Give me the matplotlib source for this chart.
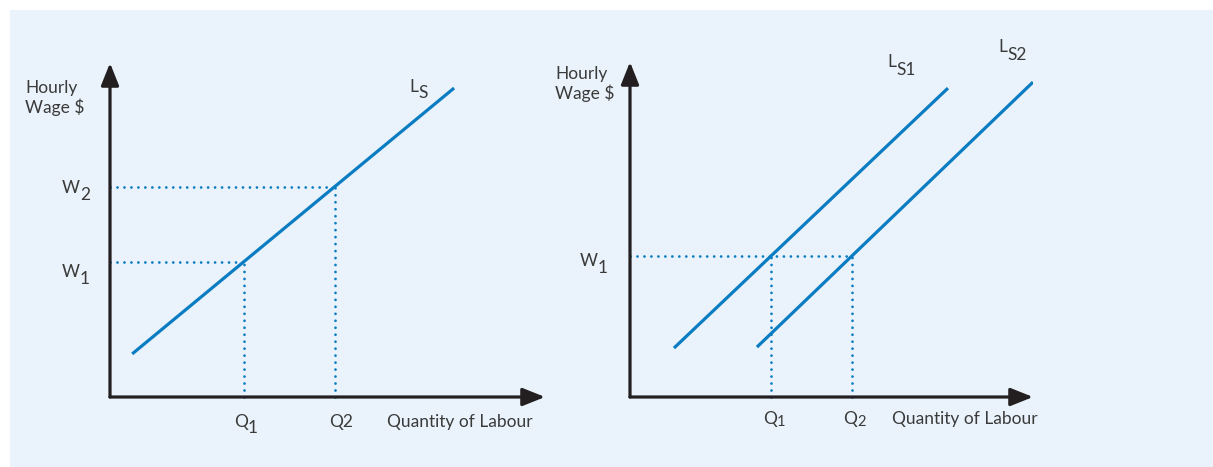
import matplotlib
matplotlib.use("Agg")
import matplotlib.pyplot as plt
from matplotlib.patches import Rectangle

# ---------------- data ----------------
# Left panel: single labour supply curve
left_ls_q = [0.51, 7.91]
left_ls_w = [1.29, 9.25]
left_q_marks = [3.08, 5.17]
left_w_marks = [4.05, 6.30]

# Right panel: shifted supply curves
right_ls1_q = [1.09, 7.89]
right_ls1_w = [1.46, 9.22]
right_ls2_q = [3.15, 10.0]
right_ls2_w = [1.49, 9.40]
right_q_marks = [3.50, 5.51]
right_w_mark = 4.20

x_label = "Quantity of Labour"
y_label = "Hourly\nWage $"

# ---------------- style ----------------
W, H = 1213, 467
BLUE = "#0a7cc2"
BG = "#eaf3fb"
AXC = "#231f20"
TXT = "#3a3a3a"
FONT = ["Lato", "DejaVu Sans"]
FS = 12.5
FW = "normal"

plt.rcParams["font.family"] = FONT

fig = plt.figure(figsize=(W / 100, H / 100), dpi=100)
fig.patch.set_facecolor("white")
fig.patches.append(Rectangle((10 / W, 0), 1 - 10 / W, 1 - 10 / H,
                             transform=fig.transFigure, facecolor=BG,
                             edgecolor="none", zorder=-10))


def fx(x):
    return x / W


def fy(y):
    return 1 - y / H


def make_axes(x0, x1, y0, y1):
    ax = fig.add_axes([fx(x0), fy(y0), fx(x1) - fx(x0), fy(y1) - fy(y0)])
    ax.set_xlim(0, 10)
    ax.set_ylim(0, 10)
    ax.axis("off")
    ax.patch.set_alpha(0)
    for xy in [(10, 0), (0, 10)]:
        ax.annotate("", xy=xy, xytext=(0, 0), xycoords="data",
                    arrowprops=dict(arrowstyle="-|>,head_length=0.85,head_width=0.34",
                                    mutation_scale=16, lw=2.3, color=AXC,
                                    shrinkA=0, shrinkB=0),
                    annotation_clip=False, zorder=5)
    return ax


def dotted(ax, q, w, horiz=True):
    kw = dict(color=BLUE, lw=2.0, ls=(0, (0.01, 2.5)),
              dash_capstyle="round", clip_on=False)
    if horiz:
        ax.plot([0, q], [w, w], **kw)
    ax.plot([q, q], [0, w], **kw)


def sublabel(xj, yb, main, sub, dy=7, subsize=None):
    """main text right-aligned at pixel xj (baseline yb), subscript after."""
    fig.text(fx(xj), fy(yb), main, ha="right", va="baseline", fontsize=FS,
             color=TXT, fontweight=FW)
    fig.text(fx(xj), fy(yb + dy), sub, ha="left", va="baseline",
             fontsize=subsize or FS, color=TXT, fontweight=FW)


def label(x, y, s, ha="left", va="baseline", **kw):
    fig.text(fx(x), fy(y), s, ha=ha, va=va, fontsize=FS, color=TXT,
             fontweight=FW, **kw)


# ---------------- left panel ----------------
axL = make_axes(110, 545, 397, 63)
axL.plot(left_ls_q, left_ls_w, color=BLUE, lw=2.3, solid_capstyle="butt")
for q, w in zip(left_q_marks, left_w_marks):
    dotted(axL, q, w)

label(25, 80, y_label, va="top", linespacing=1.15)
sublabel(80, 193, "W", "2")
sublabel(80, 277, "W", "1")
sublabel(248, 427, "Q", "1", dy=6)
label(341, 427, "Q2", ha="center")
label(387, 427, x_label)
sublabel(418, 92, "L", "S", dy=6)

# ---------------- right panel ----------------
axR = make_axes(630, 1033, 397, 62)
axR.plot(right_ls1_q, right_ls1_w, color=BLUE, lw=2.3, solid_capstyle="butt")
axR.plot(right_ls2_q, right_ls2_w, color=BLUE, lw=2.3, solid_capstyle="butt")
dotted(axR, right_q_marks[1], right_w_mark)
dotted(axR, right_q_marks[0], right_w_mark, horiz=False)

label(555, 66, y_label, va="top", linespacing=1.15)
sublabel(598, 266, "W", "1")
sublabel(777, 424, "Q", "1", dy=2, subsize=FS - 2)
sublabel(857, 424, "Q", "2", dy=2, subsize=FS - 2)
label(892, 424, x_label)
sublabel(896, 67, "L", "S1", dy=8)
sublabel(1007, 52, "L", "S2", dy=8)

fig.savefig("out.png", dpi=100, facecolor="white")
